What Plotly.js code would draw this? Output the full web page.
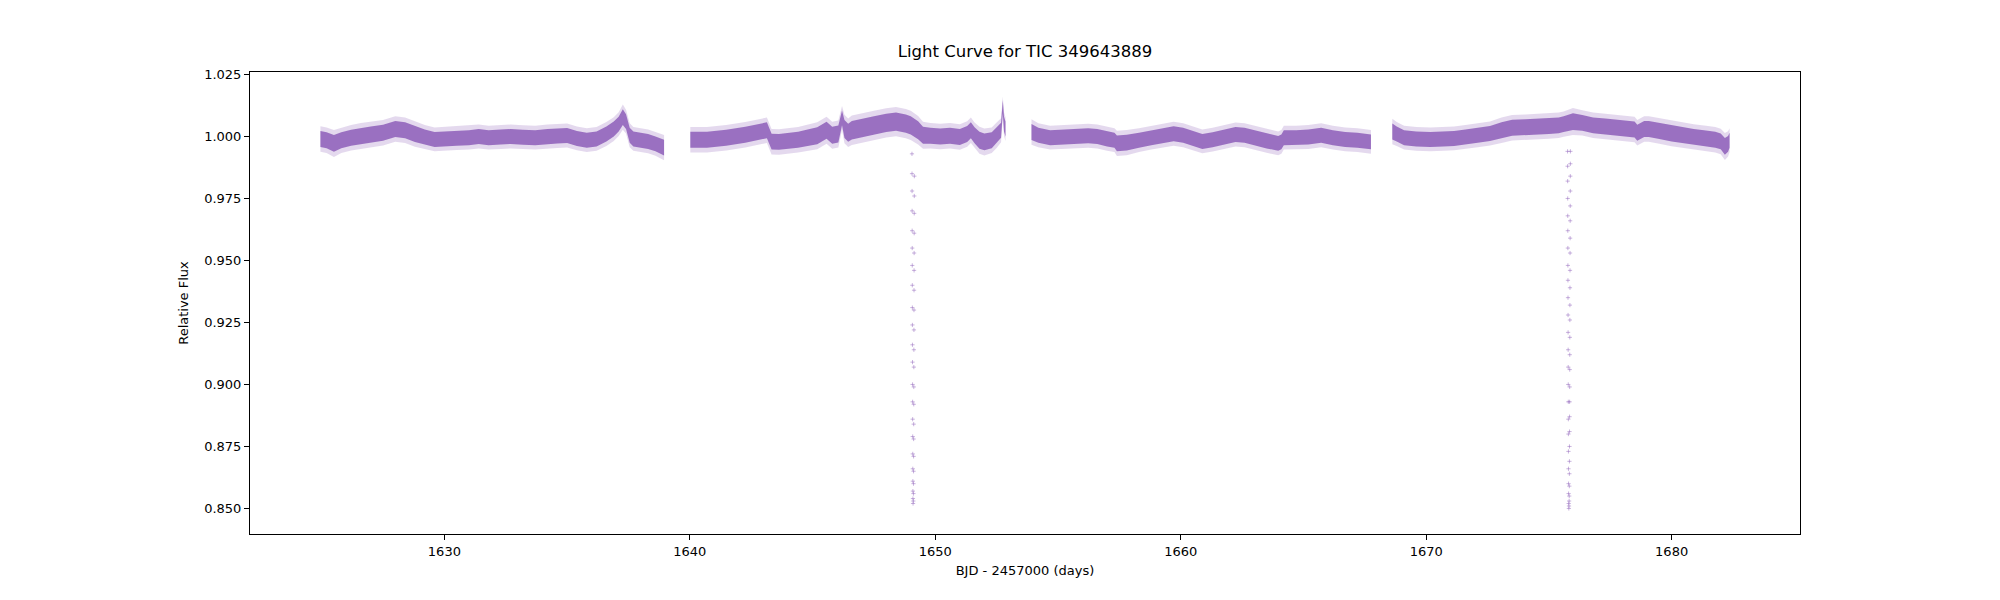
<!DOCTYPE html>
<html><head><meta charset="utf-8">
<script src="https://cdn.plot.ly/plotly-3.0.1.min.js"></script>
<style>html,body{margin:0;padding:0;background:#fff}#chart{width:2000px;height:600px}</style>
</head><body><div id="chart"></div>
<script>
// Out-of-transit light curve (null = data gap)
const timeDays = [
  1624.95,1625.2,1625.5,1625.8,1626.2,1626.6,1627.0,1627.5,1628.0,1628.4,1628.8,1629.2,1629.6,1630.0,1630.5,
  1631.0,1631.4,1631.8,1632.3,1632.7,1633.2,1633.7,1634.2,1634.6,1635.0,1635.4,1635.8,1636.2,1636.6,1636.9,
  1637.1,1637.27,1637.4,1637.55,1637.7,1638.0,1638.3,1638.6,1638.95,
  null,
  1640.02,1640.7,1641.48,1642.26,1643.04,1643.14,1643.33,1643.63,1644.41,1645.19,1645.57,1645.8,1646.05,1646.2,
  1646.3,1646.45,1646.6,1647.0,1647.5,1648.0,1648.4,1648.8,1649.0,1649.3,1649.5,1649.8,1650.2,1650.6,1651.0,
  1651.3,1651.45,1651.6,1651.8,1652.0,1652.3,1652.5,1652.68,1652.75,1652.8,1652.86,
  null,
  1653.92,1654.2,1654.68,1655.2,1655.7,1656.23,1656.6,1657.0,1657.3,1657.4,1657.8,1658.3,1658.8,1659.3,1659.71,
  1660.1,1660.5,1660.88,1661.3,1661.8,1662.23,1662.6,1663.0,1663.5,1663.97,1664.1,1664.2,1664.7,1665.2,1665.72,
  1666.2,1666.7,1667.2,1667.75,
  null,
  1668.62,1668.8,1669.1,1669.6,1670.17,1670.7,1671.14,1671.6,1672.1,1672.6,1673.07,1673.5,1674.04,1674.5,1675.0,
  1675.4,1675.6,1675.98,1676.36,1676.8,1677.3,1677.8,1678.2,1678.49,1678.6,1678.88,1679.07,1679.5,1680.0,1680.43,
  1680.9,1681.4,1681.78,1682.0,1682.17,1682.3,1682.36
];
const relFlux = [
  0.9990,0.9985,0.9972,0.9985,0.9995,1.0003,1.0008,1.0015,1.0030,1.0025,1.0010,0.9998,0.9988,0.9990,0.9993,
  0.9995,1.0000,0.9995,0.9998,1.0000,0.9997,0.9995,1.0000,1.0002,1.0004,0.9992,0.9985,0.9990,1.0010,1.0030,
  1.0050,1.0078,1.0060,1.0005,0.9990,0.9985,0.9980,0.9970,0.9955,
  null,
  0.9987,0.9987,0.9995,1.0007,1.0023,1.0025,0.9979,0.9978,0.9987,1.0003,1.0025,1.0005,1.0010,1.0075,
  1.0030,1.0015,1.0025,1.0035,1.0045,1.0055,1.0060,1.0052,1.0045,1.0025,1.0005,1.0003,1.0000,1.0003,0.9998,
  1.0010,1.0025,1.0005,0.9985,0.9978,0.9985,1.0005,1.0025,1.0120,1.0050,1.0030,
  null,
  1.0018,1.0005,0.9995,0.9997,1.0000,1.0003,1.0000,0.9990,0.9985,0.9972,0.9975,0.9985,0.9995,1.0005,1.0011,
  1.0005,0.9992,0.9980,0.9987,0.9998,1.0008,1.0005,0.9995,0.9982,0.9972,0.9978,0.9995,0.9995,0.9998,1.0005,
  0.9995,0.9988,0.9985,0.9978,
  null,
  1.0020,1.0010,0.9995,0.9990,0.9988,0.9990,0.9992,0.9998,1.0005,1.0012,1.0025,1.0035,1.0037,1.0040,1.0042,
  1.0045,1.0050,1.0060,1.0055,1.0045,1.0040,1.0035,1.0032,1.0028,1.0015,1.0030,1.0030,1.0022,1.0012,1.0005,
  0.9998,0.9992,0.9987,0.9980,0.9960,0.9970,0.9985
];
const halfWidth = [
  0.0032,0.0032,0.0034,0.0032,0.0032,0.0032,0.0032,0.0032,0.0032,0.0032,0.0032,0.0030,0.0030,0.0030,0.0030,
  0.0030,0.0030,0.0030,0.0030,0.0030,0.0030,0.0030,0.0030,0.0030,0.0030,0.0030,0.0030,0.0030,0.0030,0.0030,
  0.0030,0.0032,0.0030,0.0030,0.0030,0.0030,0.0030,0.0030,0.0032,
  null,
  0.0032,0.0032,0.0032,0.0032,0.0032,0.0032,0.0032,0.0032,0.0032,0.0034,0.0034,0.0034,0.0034,0.0030,
  0.0036,0.0036,0.0037,0.0037,0.0037,0.0037,0.0037,0.0037,0.0037,0.0036,0.0034,0.0032,0.0032,0.0032,0.0032,
  0.0032,0.0032,0.0032,0.0034,0.0034,0.0032,0.0032,0.0030,0.0026,0.0030,0.0030,
  null,
  0.0032,0.0030,0.0030,0.0030,0.0030,0.0030,0.0030,0.0030,0.0030,0.0032,0.0032,0.0030,0.0030,0.0030,0.0030,
  0.0030,0.0030,0.0030,0.0030,0.0030,0.0030,0.0030,0.0030,0.0030,0.0030,0.0030,0.0030,0.0030,0.0030,0.0030,
  0.0030,0.0030,0.0030,0.0030,
  null,
  0.0032,0.0030,0.0030,0.0030,0.0030,0.0030,0.0030,0.0030,0.0030,0.0030,0.0032,0.0032,0.0032,0.0032,0.0032,
  0.0032,0.0032,0.0034,0.0032,0.0032,0.0032,0.0032,0.0032,0.0032,0.0032,0.0032,0.0032,0.0032,0.0032,0.0032,
  0.0032,0.0032,0.0032,0.0032,0.0034,0.0032,0.0030
];

// In-transit points (two transits)
const transit1Time = [
  1649.050,1649.052,1649.054,1649.056,1649.058,1649.060,1649.062,1649.064,1649.066,1649.068,1649.070,
  1649.072,1649.074,1649.076,1649.078,1649.080,1649.082,1649.084,1649.086,1649.088,1649.090,1649.094,
  1649.106,1649.110,1649.112,1649.114,1649.116,1649.118,1649.120,1649.122,1649.124,1649.126,1649.128,
  1649.130,1649.132,1649.134,1649.136,1649.138,1649.140,1649.142,1649.144,1649.146
];
const transit1Flux = [
  0.993,0.985,0.978,0.970,0.962,0.955,0.948,0.940,0.931,0.924,0.916,
  0.909,0.900,0.893,0.886,0.879,0.872,0.866,0.861,0.857,0.854,0.852,
  0.853,0.856,0.860,0.865,0.871,0.878,0.884,0.892,0.899,0.907,0.914,
  0.922,0.930,0.938,0.946,0.953,0.961,0.969,0.976,0.984
];
const transit2Time = [
  1675.760,1675.762,1675.764,1675.766,1675.768,1675.770,1675.772,1675.774,1675.776,1675.778,1675.780,
  1675.782,1675.784,1675.786,1675.788,1675.790,1675.792,1675.794,1675.796,1675.798,1675.800,1675.802,
  1675.806,1675.812,1675.818,1675.824,1675.828,1675.832,1675.834,1675.836,1675.838,1675.840,1675.842,
  1675.844,1675.846,1675.848,1675.850,1675.852,1675.854,1675.856,1675.858,1675.860,1675.862,1675.864,
  1675.866,1675.868,1675.870,1675.872,1675.874,1675.876
];
const transit2Flux = [
  0.994,0.988,0.982,0.975,0.968,0.962,0.955,0.948,0.942,0.935,0.928,
  0.921,0.914,0.907,0.900,0.893,0.886,0.880,0.873,0.866,0.860,0.856,
  0.852,0.850,0.851,0.853,0.855,0.859,0.864,0.869,0.875,0.881,0.887,
  0.893,0.899,0.906,0.912,0.919,0.926,0.932,0.939,0.946,0.953,0.959,
  0.966,0.972,0.978,0.984,0.989,0.994
];

const xTicks = [1630,1640,1650,1660,1670,1680];
const yTicks = [0.850,0.875,0.900,0.925,0.950,0.975,1.000,1.025];
const titleText = 'Light Curve for TIC 349643889';
const xLabel = 'BJD - 2457000 (days)';
const yLabel = 'Relative Flux';

// split into continuous segments
const segments = [];
let cur = null;
for (let i = 0; i < timeDays.length; i++) {
  if (timeDays[i] === null) { cur = null; continue; }
  if (!cur) { cur = {t: [], f: [], w: []}; segments.push(cur); }
  cur.t.push(timeDays[i]); cur.f.push(relFlux[i]); cur.w.push(halfWidth[i]);
}

const purple = '148,103,189';
const traces = [];
function band(seg, scale, color) {
  const up = seg.f.map((v, i) => v + seg.w[i] * scale);
  const lo = seg.f.map((v, i) => v - seg.w[i] * scale);
  return {
    type: 'scatter', mode: 'lines', x: seg.t.concat(seg.t.slice().reverse()),
    y: up.concat(lo.slice().reverse()), fill: 'toself', fillcolor: color,
    line: {width: 0, color: color}, hoverinfo: 'skip', showlegend: false
  };
}
segments.forEach(s => traces.push(band(s, 1.6, 'rgba(' + purple + ',0.25)')));
segments.forEach(s => traces.push(band(s, 1.0, 'rgba(' + purple + ',0.92)')));

const markerStyle = {symbol: 'cross-thin', size: 3, color: 'rgba(' + purple + ',0.5)',
  line: {width: 1, color: 'rgba(' + purple + ',0.5)'}};
traces.push({type: 'scatter', mode: 'markers', x: transit1Time, y: transit1Flux, marker: markerStyle, showlegend: false});
traces.push({type: 'scatter', mode: 'markers', x: transit2Time, y: transit2Flux, marker: markerStyle, showlegend: false});

const font = {family: 'DejaVu Sans, sans-serif', size: 13, color: '#000'};
const layout = {
  width: 2000, height: 600,
  margin: {l: 250, r: 200, t: 72, b: 66, pad: 0},
  paper_bgcolor: '#fff', plot_bgcolor: '#fff',
  font: font,
  title: {text: titleText, font: {family: 'DejaVu Sans, sans-serif', size: 16.5, color: '#000'},
    xref: 'paper', x: 0.5, xanchor: 'center', yref: 'container', y: 0.905, yanchor: 'bottom'},
  xaxis: {range: [1622.08, 1685.23], tickvals: xTicks, ticktext: xTicks.map(String),
    ticks: 'outside', ticklen: 5, tickwidth: 1, tickcolor: '#000', showgrid: false, zeroline: false,
    showline: true, linecolor: '#000', linewidth: 1, mirror: true,
    title: {text: xLabel, font: font, standoff: 8}, tickfont: font},
  yaxis: {range: [0.8397, 1.026], tickvals: yTicks, ticktext: yTicks.map(v => v.toFixed(3)),
    ticks: 'outside', ticklen: 5, tickwidth: 1, tickcolor: '#000', showgrid: false, zeroline: false,
    showline: true, linecolor: '#000', linewidth: 1, mirror: true,
    title: {text: yLabel, font: font, standoff: 12}, tickfont: font}
};
Plotly.newPlot('chart', traces, layout, {displayModeBar: false, staticPlot: true});
</script>
</body></html>
